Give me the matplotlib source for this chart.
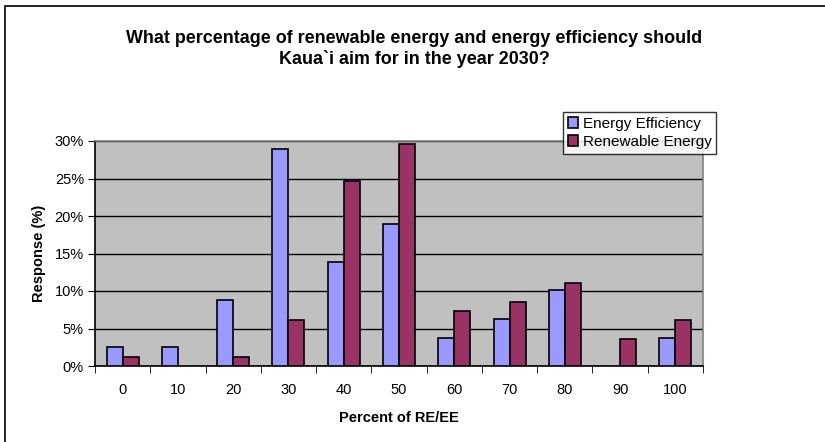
import numpy as np
import matplotlib.pyplot as plt
from matplotlib.patches import Rectangle

plt.rcParams['font.family'] = ['Liberation Sans', 'DejaVu Sans']

categories = ['0', '10', '20', '30', '40', '50', '60', '70', '80', '90', '100']
efficiency = [2.5, 2.5, 8.8, 29.0, 13.9, 18.9, 3.8, 6.3, 10.1, 0.0, 3.8]
renewable = [1.2, 0.0, 1.2, 6.1, 24.7, 29.6, 7.3, 8.6, 11.1, 3.6, 6.1]

fig = plt.figure(figsize=(8.25, 4.42), dpi=100)
ax = fig.add_axes([95 / 825, 1 - 366 / 442, 608 / 825, 225 / 442])
ax.set_facecolor('#C0C0C0')

x = np.arange(len(categories))
w = 0.29
b1 = ax.bar(x - w / 2, efficiency, w, color='#9999FF', edgecolor='black', linewidth=1.2,
            label='Energy Efficiency', zorder=3)
b2 = ax.bar(x + w / 2, renewable, w, color='#993366', edgecolor='black', linewidth=1.2,
            label='Renewable Energy', zorder=3)
# empty bars draw nothing
for bars, vals in ((b1, efficiency), (b2, renewable)):
    for p, v in zip(bars, vals):
        if v == 0:
            p.set_visible(False)

ax.set_xlim(-0.5, len(categories) - 0.5)
ax.set_ylim(0, 30)
ax.set_yticks(np.arange(0, 31, 5))
ax.set_yticklabels([f'{v}%' for v in range(0, 31, 5)])
ax.yaxis.grid(True, color='black', linewidth=1)
ax.set_axisbelow(True)

ax.set_xticks(x)
ax.set_xticklabels(categories)
ax.set_xticks(np.arange(-0.5, len(categories), 1), minor=True)
ax.tick_params(axis='x', which='major', length=0, pad=12, labelsize=10.5)
ax.tick_params(axis='x', which='minor', length=5, color='black', direction='out')
ax.tick_params(axis='y', length=5, labelsize=10.5, pad=3)

ax.spines['left'].set_color('black')
ax.spines['bottom'].set_color('black')
ax.spines['right'].set_color('#808080')
ax.spines['top'].set_color('#808080')
for s in ax.spines.values():
    s.set_linewidth(1.2)

ax.set_xlabel('Percent of RE/EE', fontsize=10.5, fontweight='bold', labelpad=10)
ax.set_ylabel('Response (%)', fontsize=10.5, fontweight='bold', labelpad=6)

fig.text(414 / 825, 1 - 49 / 442,
         'What percentage of renewable energy and energy efficiency should\nKaua`i aim for in the year 2030?',
         ha='center', va='center', fontsize=12.9, fontweight='bold', linespacing=1.18)

leg = fig.legend(loc='upper left', bbox_to_anchor=(563 / 825, 1 - 112 / 442),
                 fontsize=11, frameon=True, fancybox=False, edgecolor='black',
                 handlelength=0.7, handleheight=0.7, handletextpad=0.3,
                 borderpad=0.3, labelspacing=0.3, borderaxespad=0)
leg.get_frame().set_linewidth(1)

fig.patches.append(Rectangle((5 / 825, -0.1), 1.2, 1 - 6 / 442 + 0.1,
                             transform=fig.transFigure, fill=False,
                             edgecolor='black', linewidth=1.2))

fig.savefig('out.png', dpi=100)
